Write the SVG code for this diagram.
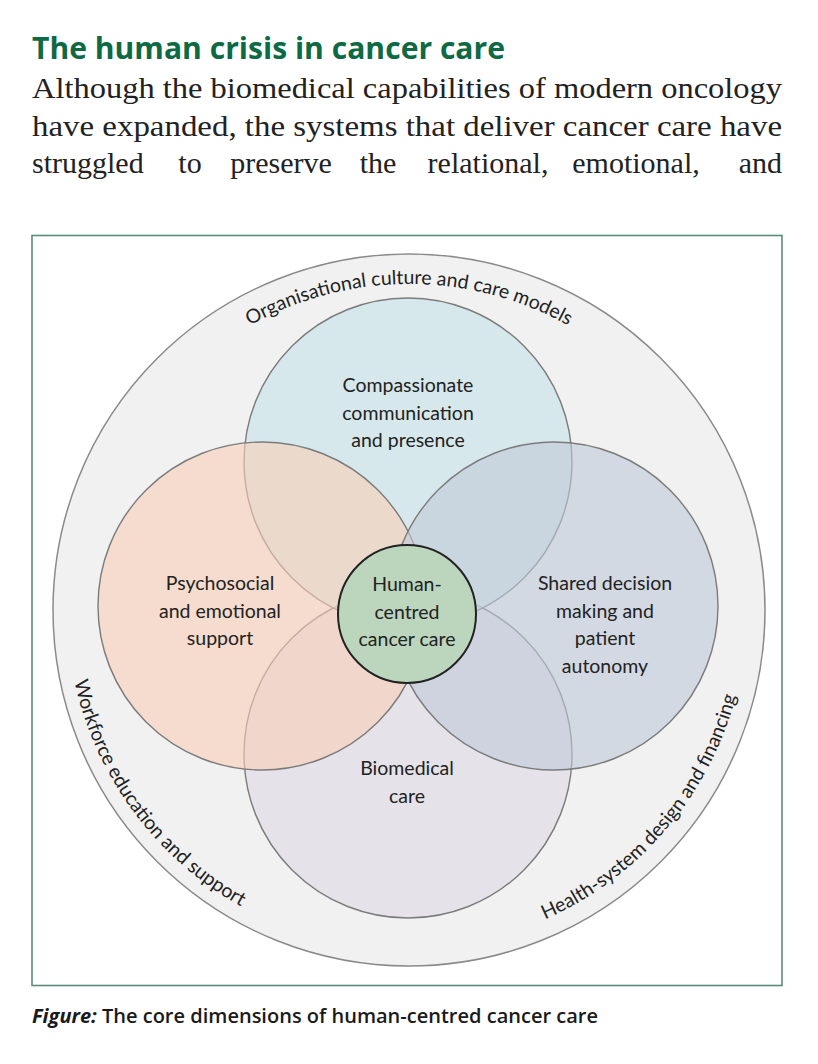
<svg xmlns="http://www.w3.org/2000/svg" width="818" height="1064" viewBox="0 0 818 1064">
<style>
.title{font-family:"Open Sans","Liberation Sans",sans-serif;font-weight:700;font-size:30px;fill:#0e6a44}
.body{font-family:"Liberation Serif","DejaVu Serif",serif;font-size:30px;fill:#222}
.lbl{font-family:Lato,"Open Sans",sans-serif;font-size:19.5px;fill:#222;text-anchor:middle}
.ring{font-family:Lato,"Open Sans",sans-serif;font-size:19.5px;fill:#222}
.venn{stroke:#7b7b7b;stroke-width:1.4;fill-opacity:0.6}
.cap{font-family:"Open Sans","Liberation Sans",sans-serif;font-weight:600;font-size:20px;fill:#1a1a1a}
</style>
<defs>
<path id="arcTop" d="M 83 610 A 326 326 0 0 1 735 610"/>
<path id="arcLeft" d="M 69.9 563.5 A 340 340 0 0 0 352.2 945.2"/>
<path id="arcRight" d="M 438.5 946.7 A 338 338 0 0 0 746.2 586.4"/>
</defs>
<rect width="818" height="1064" fill="#fff"/>
<g id="header">
<text class="title" x="32" y="59" textLength="473" lengthAdjust="spacingAndGlyphs">The human crisis in cancer care</text>
<text class="body" x="32" y="98" textLength="750" lengthAdjust="spacingAndGlyphs">Although the biomedical capabilities of modern oncology</text>
<text class="body" x="32" y="136" textLength="750" lengthAdjust="spacingAndGlyphs">have expanded, the systems that deliver cancer care have</text>
<g class="body">
<text x="32" y="173">struggled</text>
<text x="190" y="173" text-anchor="middle">to</text>
<text x="281" y="173" text-anchor="middle">preserve</text>
<text x="378" y="173" text-anchor="middle">the</text>
<text x="488" y="173" text-anchor="middle">relational,</text>
<text x="636" y="173" text-anchor="middle">emotional,</text>
<text x="782" y="173" text-anchor="end">and</text>
</g>
</g>
<rect id="frame" x="32" y="235.5" width="750" height="750" fill="#fff" stroke="#5a8b7c" stroke-width="1.6"/>
<g id="outer-ring">
<circle cx="409" cy="610" r="356" fill="#f1f1f1" stroke="#8a8a8a" stroke-width="1.5"/>
<text class="ring"><textPath href="#arcTop" startOffset="50%" text-anchor="middle">Organisational culture and care models</textPath></text>
<text class="ring"><textPath href="#arcLeft" startOffset="50%" text-anchor="middle">Workforce education and support</textPath></text>
<text class="ring"><textPath href="#arcRight" startOffset="50%" text-anchor="middle">Health-system design and financing</textPath></text>
</g>
<g id="node-biomedical">
<circle class="venn" cx="408" cy="754" r="164" fill="#e0d8e4"/>
</g>
<g id="node-communication">
<circle class="venn" cx="408" cy="462" r="164" fill="#c7e2e9"/>
</g>
<g id="node-psychosocial">
<circle class="venn" cx="262" cy="606" r="164" fill="#f8ceb8"/>
</g>
<g id="node-shared-decision">
<circle class="venn" cx="554" cy="606" r="164" fill="#bfc9d8"/>
</g>
<g id="node-labels">
<text class="lbl" x="408" y="392">Compassionate</text>
<text class="lbl" x="408" y="420">communication</text>
<text class="lbl" x="408" y="447">and presence</text>
<text class="lbl" x="220" y="590">Psychosocial</text>
<text class="lbl" x="220" y="618">and emotional</text>
<text class="lbl" x="220" y="645">support</text>
<text class="lbl" x="605" y="590">Shared decision</text>
<text class="lbl" x="605" y="618">making and</text>
<text class="lbl" x="605" y="645">patient</text>
<text class="lbl" x="605" y="673">autonomy</text>
<text class="lbl" x="407" y="775">Biomedical</text>
<text class="lbl" x="407" y="803">care</text>
</g>
<g id="node-center">
<circle cx="407" cy="614" r="69" fill="#bcd5bd" stroke="#222" stroke-width="2"/>
<text class="lbl" x="407" y="591">Human-</text>
<text class="lbl" x="407" y="619">centred</text>
<text class="lbl" x="407" y="646">cancer care</text>
</g>
<g id="connectors"/>
<text class="cap" x="32" y="1023" textLength="566" lengthAdjust="spacingAndGlyphs"><tspan font-style="italic" font-weight="700">Figure:</tspan> The core dimensions of human-centred cancer care</text>
</svg>
